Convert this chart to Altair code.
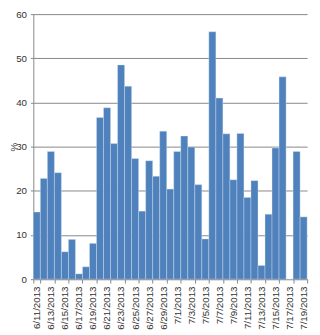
import altair as alt
import pandas as pd

dates = ["6/11/2013", "6/12/2013", "6/13/2013", "6/14/2013", "6/15/2013", "6/16/2013",
         "6/17/2013", "6/18/2013", "6/19/2013", "6/20/2013", "6/21/2013", "6/22/2013",
         "6/23/2013", "6/24/2013", "6/25/2013", "6/26/2013", "6/27/2013", "6/28/2013",
         "6/29/2013", "6/30/2013", "7/1/2013", "7/2/2013", "7/3/2013", "7/4/2013",
         "7/5/2013", "7/6/2013", "7/7/2013", "7/8/2013", "7/9/2013", "7/10/2013",
         "7/11/2013", "7/12/2013", "7/13/2013", "7/14/2013", "7/15/2013", "7/16/2013",
         "7/17/2013", "7/18/2013", "7/19/2013"]
values = [15.2, 22.8, 28.9, 24.1, 6.2, 9.0, 1.2, 2.8, 8.1, 36.6, 38.8, 30.7,
          48.5, 43.7, 27.3, 15.4, 26.8, 23.3, 33.5, 20.4, 28.9, 32.4, 29.9, 21.4,
          9.1, 56.0, 41.0, 32.9, 22.5, 33.0, 18.5, 22.3, 3.1, 14.7, 29.7, 45.8,
          0.0, 28.9, 14.1]
label_dates = dates[::2]

df = pd.DataFrame({"date": dates, "pct": values})

chart = alt.Chart(df).mark_bar(color="#4F81BD", stroke="#dbe4f0", strokeWidth=0.4).encode(
    x=alt.X("date:N", sort=None, title=None,
            scale=alt.Scale(paddingInner=0, paddingOuter=0),
            axis=alt.Axis(values=label_dates, labelAngle=-90, tickBand="extent",
                          labelFont="Liberation Sans", labelFontSize=10, labelColor="#333333",
                          tickColor="#868686", domainColor="#868686", tickSize=4,
                          labelPadding=3, grid=False)),
    y=alt.Y("pct:Q", title="%", scale=alt.Scale(domain=[0, 60]),
            axis=alt.Axis(values=[0, 10, 20, 30, 40, 50, 60], labelFont="Liberation Sans",
                          labelFontSize=10, labelColor="#333333", titleFont="Liberation Sans",
                          titleFontSize=10, titleFontWeight="normal", titleColor="#333333",
                          titleX=-15, gridColor="#868686", domainColor="#868686",
                          tickColor="#868686", tickSize=3, labelPadding=4)),
).properties(
    width=281, height=272,
    autosize=alt.AutoSizeParams(type="none"),
    padding={"left": 26, "top": 2, "right": 5, "bottom": 52},
).configure_view(stroke=None)

chart.save("out.html", embed_options={"renderer": "svg", "actions": False})
